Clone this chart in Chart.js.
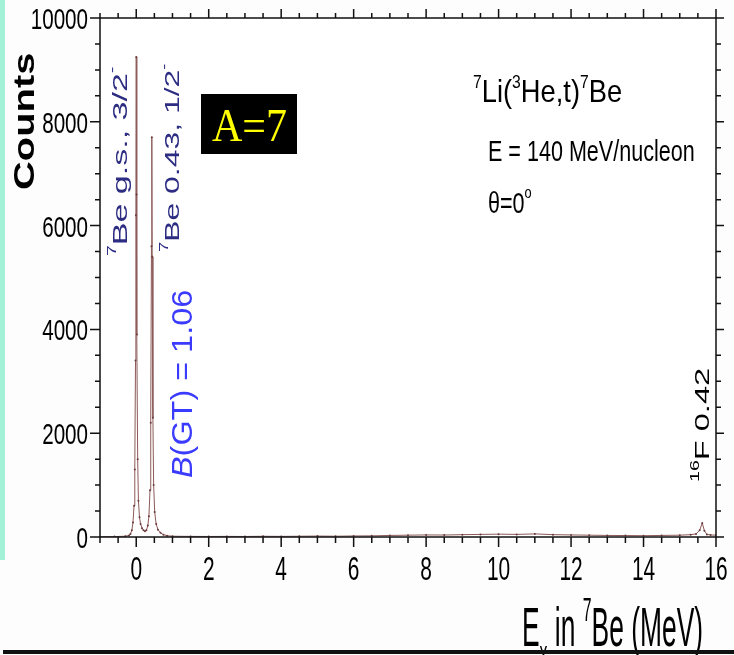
<!DOCTYPE html>
<html>
<head>
<meta charset="utf-8">
<script src="https://cdn.jsdelivr.net/npm/chart.js@4/dist/chart.umd.min.js"></script>
<style>
  html, body { margin: 0; padding: 0; background: #fdfdfd; }
  canvas { display: block; }
</style>
</head>
<body>
<canvas id="myChart" width="734" height="655"></canvas>
<script>
// excitation energy (MeV) and counts
const energies = [
  -1.0, -0.6, -0.3, -0.2, -0.16, -0.12, -0.09, -0.06, -0.04, -0.02, -0.01, 0.0,
  0.01, 0.02, 0.04, 0.06, 0.09, 0.12, 0.16, 0.2, 0.24, 0.28, 0.32, 0.35, 0.38,
  0.4, 0.42, 0.43, 0.44, 0.46, 0.48, 0.51, 0.55, 0.6, 0.67, 0.75, 0.85, 1.0,
  1.5, 2.0, 2.5, 3.0, 3.5, 4.0, 4.5, 5.0, 5.5, 6.0, 6.5, 7.0, 7.5, 8.0, 8.5,
  9.0, 9.5, 10.0, 10.5, 11.0, 11.5, 12.0, 12.5, 13.0, 13.5, 14.0, 14.5, 15.0,
  15.3, 15.45, 15.55, 15.62, 15.68, 15.75, 15.85, 16.0,
];
const counts = [
  5, 8, 15, 30, 60, 130, 280, 600, 1300, 3400, 6200, 9250,
  6600, 3900, 1500, 700, 380, 250, 170, 130, 110, 130, 220, 400, 900,
  2200, 5600, 7700, 5400, 2300, 1000, 480, 250, 140, 80, 45, 25, 15,
  12, 10, 12, 10, 14, 12, 15, 18, 15, 20, 22, 30, 35, 40, 38,
  45, 50, 55, 50, 60, 45, 40, 35, 30, 28, 25, 30, 35,
  45, 60, 130, 270, 120, 50, 40, 35,
];
const xTickLabels = [0, 2, 4, 6, 8, 10, 12, 14, 16];
const yTickLabels = [0, 2000, 4000, 6000, 8000, 10000];

const SANS = "'Liberation Sans', Arial, Helvetica, sans-serif";
const SERIF = "'Liberation Serif', 'Times New Roman', serif";

function drawText(ctx, parts, x, y, o) {
  ctx.save();
  ctx.translate(x, y);
  ctx.scale(o.sx || 1, o.sy || 1);
  if (o.rotate) ctx.rotate(-Math.PI / 2);
  ctx.fillStyle = o.color || "#000";
  ctx.textBaseline = "alphabetic";
  ctx.textAlign = "left";
  const fam = o.family || SANS;
  const fontOf = (p) => `${p.style || o.style || ""} ${p.size || o.size}px ${fam}`;
  let total = 0;
  parts.forEach((p) => {
    ctx.font = fontOf(p);
    total += ctx.measureText(p.t).width;
  });
  let cx = o.align === "right" ? -total : o.align === "center" ? -total / 2 : 0;
  parts.forEach((p) => {
    ctx.font = fontOf(p);
    ctx.fillText(p.t, cx, p.dy || 0);
    cx += ctx.measureText(p.t).width;
  });
  ctx.restore();
}

const decor = {
  id: "decor",
  beforeDraw(chart) {
    const ctx = chart.ctx;
    const a = chart.chartArea;
    ctx.save();
    ctx.fillStyle = "#fdfdfd";
    ctx.fillRect(0, 0, chart.width, chart.height);
    ctx.fillStyle = "#a3f2d8";
    ctx.fillRect(0, 0, 5, 560);
    ctx.fillStyle = "#ffffff";
    ctx.fillRect(a.left, a.top, a.right - a.left, a.bottom - a.top);
    ctx.restore();
  },
  afterDraw(chart) {
    const ctx = chart.ctx;
    const a = chart.chartArea;
    const xs = chart.scales.x;
    const ys = chart.scales.y;
    ctx.save();
    ctx.strokeStyle = "#111";
    ctx.lineWidth = 1.5;
    ctx.strokeRect(a.left, a.top, a.right - a.left, a.bottom - a.top);
    ctx.beginPath();
    for (let i = -2; i <= 32; i++) {
      const v = i / 2;
      const px = xs.getPixelForValue(v);
      const major = xTickLabels.includes(v);
      ctx.moveTo(px, a.bottom);
      ctx.lineTo(px, a.bottom + (major ? 10 : 6));
      ctx.moveTo(px, a.top);
      ctx.lineTo(px, a.top - (major ? 9 : 5));
    }
    for (let i = 0; i <= 20; i++) {
      const v = i * 500;
      const py = ys.getPixelForValue(v);
      const major = yTickLabels.includes(v);
      ctx.moveTo(a.left, py);
      ctx.lineTo(a.left - (major ? 10 : 5), py);
      ctx.moveTo(a.right, py);
      ctx.lineTo(a.right + (major ? 8 : 5), py);
    }
    ctx.stroke();
    ctx.restore();

    xTickLabels.forEach((v) => {
      drawText(ctx, [{ t: String(v) }], xs.getPixelForValue(v), 580,
        { size: 22, sx: 0.95, sy: 1.55, align: "center" });
    });
    yTickLabels.forEach((v) => {
      drawText(ctx, [{ t: String(v) }], 88, ys.getPixelForValue(v) + 11,
        { size: 20, sx: 1.03, sy: 1.5, align: "right" });
    });

    drawText(ctx, [{ t: "Counts" }], 34, 190,
      { size: 30, style: "bold", sy: 1.33, rotate: true });

    drawText(ctx, [
      { t: "E" }, { t: "x", size: 18, dy: 10 }, { t: " in " },
      { t: "7", size: 18, dy: -14 }, { t: "Be (MeV)" },
    ], 522, 646, { size: 30, sx: 0.88, sy: 1.82 });

    const navy = "#2c2c82";
    drawText(ctx, [
      { t: "7", size: 12, dy: -11 }, { t: "Be g.s., 3/2" }, { t: "-", size: 12, dy: -11 },
    ], 127, 256, { size: 21, sy: 1.62, rotate: true, color: navy });
    drawText(ctx, [
      { t: "7", size: 12, dy: -11 }, { t: "Be 0.43, 1/2" }, { t: "-", size: 12, dy: -11 },
    ], 179, 252, { size: 21, sy: 1.52, rotate: true, color: navy });

    drawText(ctx, [{ t: "B", style: "italic" }, { t: "(GT) = 1.06" }], 192, 478,
      { size: 30, sy: 1.08, rotate: true, color: "#3b3bff" });

    drawText(ctx, [{ t: "16", size: 12, dy: -10 }, { t: "F 0.42" }], 709, 482,
      { size: 20, sy: 1.63, rotate: true });

    drawText(ctx, [
      { t: "7", size: 15, dy: -12 }, { t: "Li(" }, { t: "3", size: 15, dy: -12 },
      { t: "He,t)" }, { t: "7", size: 15, dy: -12 }, { t: "Be" },
    ], 473, 102, { size: 26, sx: 1.05, sy: 1.18 });
    drawText(ctx, [{ t: "E = 140 MeV/nucleon" }], 488, 161,
      { size: 22, sx: 0.98, sy: 1.33 });
    drawText(ctx, [{ t: "\u03b8=0" }, { t: "o", size: 13, dy: -11 }], 488, 213,
      { size: 22, sx: 0.98, sy: 1.33 });

    ctx.save();
    ctx.fillStyle = "#000";
    ctx.fillRect(201, 94, 96, 60);
    ctx.restore();
    drawText(ctx, [{ t: "A=7" }], 212, 141,
      { size: 42, sy: 1.08, family: SERIF, color: "#ffff00" });

    ctx.save();
    ctx.fillStyle = "#111";
    ctx.fillRect(3, 650, 731, 4);
    ctx.restore();
  },
};

const chartDraw = document.getElementById("myChart").getContext("2d");
const chart = new Chart(chartDraw, {
  type: "line",
  data: {
    datasets: [
      {
        label: "Counts",
        data: energies.map((e, i) => ({ x: e, y: counts[i] })),
        borderColor: "#8c5a5a",
        borderWidth: 1,
        pointRadius: 1,
        pointBorderWidth: 0,
        pointBackgroundColor: "#6b3b3b",
        tension: 0,
        fill: false,
      },
    ],
  },
  options: {
    responsive: false,
    animation: false,
    devicePixelRatio: 1,
    layout: { padding: { top: 18, right: 18, left: 0, bottom: 0 } },
    plugins: { legend: { display: false }, tooltip: { enabled: false } },
    scales: {
      x: {
        type: "linear",
        min: -1,
        max: 16,
        ticks: { display: false },
        grid: { display: false },
        border: { display: false },
        afterFit(scale) {
          scale.height = 118;
        },
      },
      y: {
        min: 0,
        max: 10000,
        ticks: { display: false },
        grid: { display: false },
        border: { display: false },
        afterFit(scale) {
          scale.width = 100;
        },
      },
    },
  },
  plugins: [decor],
});
</script>
</body>
</html>
